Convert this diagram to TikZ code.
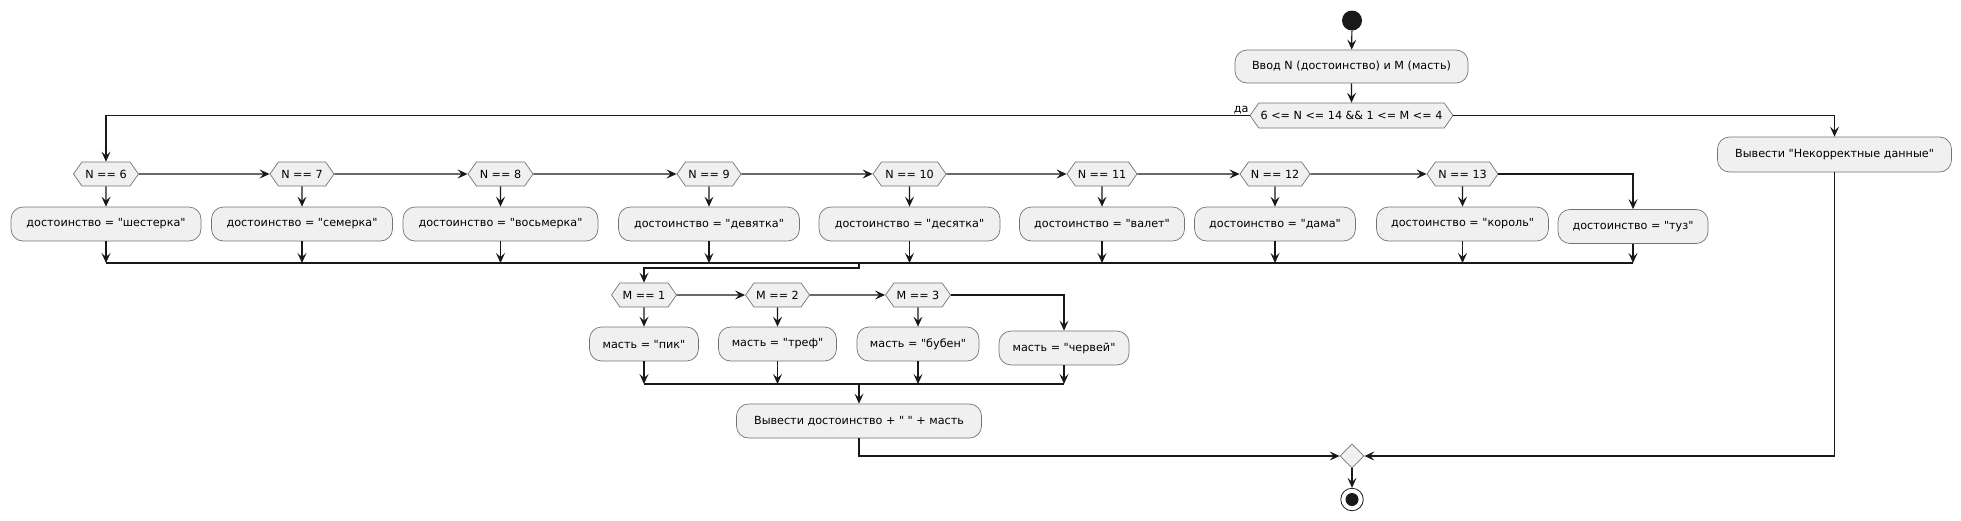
\documentclass[tikz,border=0pt]{standalone}
\usepackage{fontspec}
\newfontfamily\umlfont{DejaVu Sans}
\usetikzlibrary{shapes.symbols,shapes.geometric,arrows.meta}
\colorlet{myfill}{black!6}
\colorlet{mygray}{black!55}
\colorlet{mydark}{black!90}

\begin{document}
\begin{tikzpicture}[x=1pt,y=-1pt,font=\umlfont\fontsize{11.2}{13}\selectfont]
\useasboundingbox (0,0) rectangle (1961,520);
\tikzset{>={Stealth[length=10pt,width=9pt,inset=4pt]}}
\tikzset{Action/.style ={draw=mygray, fill=myfill, rounded corners=12pt, minimum height=34pt, inner sep=0pt, line width=0.7pt}}
\tikzset{Choice/.style ={shape=signal, signal to=east and west, signal pointer angle=110, draw=mygray, fill=myfill, minimum height=24pt, inner sep=0pt, line width=0.7pt}}
\tikzset{Flow/.style ={->, draw=mydark, line width=1.2pt}}
\node[circle, fill=mydark, minimum size=20pt, inner sep=0pt] (s) at (1352,20.5) {};
\node[Action, minimum width=233pt, minimum height=33pt] (inp) at (1351.5,66.5) {Ввод N (достоинство) и M (масть)};
\node[Choice, minimum width=203pt, minimum height=25pt] (c) at (1351.5,115.5) {6 <= N <= 14 \&\& 1 <= M <= 4};
\node[anchor=south east, inner sep=1pt] (yes) at (c.west) {да};
\node[Choice, minimum width=65pt] (n6) at (106,174) {N == 6};
\node[Choice, minimum width=64pt] (n7) at (302,174) {N == 7};
\node[Choice, minimum width=65pt] (n8) at (500.5,174) {N == 8};
\node[Choice, minimum width=64pt] (n9) at (709,174) {N == 9};
\node[Choice, minimum width=73pt] (n10) at (909.5,174) {N == 10};
\node[Choice, minimum width=70pt] (n11) at (1102,174) {N == 11};
\node[Choice, minimum width=70pt] (n12) at (1275,174) {N == 12};
\node[Choice, minimum width=71pt] (n13) at (1462.5,174) {N == 13};
\node[Action, minimum width=190pt] (d6) at (106,224) {достоинство = "шестерка"};
\node[Action, minimum width=181pt] (d7) at (302,224) {достоинство = "семерка"};
\node[Action, minimum width=195pt] (d8) at (500.5,224) {достоинство = "восьмерка"};
\node[Action, minimum width=181pt] (d9) at (709,224) {достоинство = "девятка"};
\node[Action, minimum width=181pt] (d10) at (909.5,224) {достоинство = "десятка"};
\node[Action, minimum width=165pt] (d11) at (1102,224) {достоинство = "валет"};
\node[Action, minimum width=161pt] (d12) at (1275,224) {достоинство = "дама"};
\node[Action, minimum width=172pt] (d13) at (1462.5,224) {достоинство = "король"};
\node[Action, minimum width=150pt] (d14) at (1633,226.5) {достоинство = "туз"};
\node[Action, minimum width=234pt, minimum height=35pt] (bad) at (1834.5,154.5) {Вывести "Некорректные данные"};
\node[Choice, minimum width=65pt] (m1) at (644,295) {M == 1};
\node[Choice, minimum width=64pt] (m2) at (777.5,295) {M == 2};
\node[Choice, minimum width=65pt] (m3) at (918,295) {M == 3};
\node[Action, minimum width=109pt] (s1) at (644,344) {масть = "пик"};
\node[Action, minimum width=118pt] (s2) at (777.5,344) {масть = "треф"};
\node[Action, minimum width=122pt] (s3) at (918,344) {масть = "бубен"};
\node[Action, minimum width=130pt] (s4) at (1064,348) {масть = "червей"};
\node[Action, minimum width=245pt] (out) at (859,421) {Вывести достоинство + " " + масть};
\node[diamond, aspect=1, draw=mygray, fill=myfill, minimum size=24pt, inner sep=0pt, line width=0.7pt] (jn) at (1352,456) {};
\node[circle, draw=mydark, fill=white, minimum size=22.5pt, inner sep=0pt, line width=0.8pt] (e) at (1352,499.5) {};
\node[circle, fill=mydark, minimum size=13pt, inner sep=0pt] (e0) at (e) {};
\coordinate (k) at (0,263);
\coordinate (j) at (859,263);
\coordinate (l) at (0,384);
\draw[Flow] (s) -- (inp);
\draw[Flow] (inp) -- (c);
\draw[Flow] (c.west) -| (n6);
\draw[Flow] (c.east) -| (bad);
\draw[Flow] (n6) -- (n7);
\draw[Flow] (n7) -- (n8);
\draw[Flow] (n8) -- (n9);
\draw[Flow] (n9) -- (n10);
\draw[Flow] (n10) -- (n11);
\draw[Flow] (n11) -- (n12);
\draw[Flow] (n12) -- (n13);
\draw[Flow] (n13.east) -| (d14);
\draw[Flow] (n6) -- (d6);
\draw[Flow] (n7) -- (d7);
\draw[Flow] (n8) -- (d8);
\draw[Flow] (n9) -- (d9);
\draw[Flow] (n10) -- (d10);
\draw[Flow] (n11) -- (d11);
\draw[Flow] (n12) -- (d12);
\draw[Flow] (n13) -- (d13);
\draw[Flow] (d6) -- (d6 |- k);
\draw[Flow] (d7) -- (d7 |- k);
\draw[Flow] (d8) -- (d8 |- k);
\draw[Flow] (d9) -- (d9 |- k);
\draw[Flow] (d10) -- (d10 |- k);
\draw[Flow] (d11) -- (d11 |- k);
\draw[Flow] (d12) -- (d12 |- k);
\draw[Flow] (d13) -- (d13 |- k);
\draw[Flow] (d14) -- (d14 |- k);
\draw[Flow, -] (d6 |- k) -- (d14 |- k);
\draw[Flow] (j) -- ++(0,5) -| (m1);
\draw[Flow] (m1) -- (m2);
\draw[Flow] (m2) -- (m3);
\draw[Flow] (m3.east) -| (s4);
\draw[Flow] (m1) -- (s1);
\draw[Flow] (m2) -- (s2);
\draw[Flow] (m3) -- (s3);
\draw[Flow] (s1) -- (s1 |- l);
\draw[Flow] (s2) -- (s2 |- l);
\draw[Flow] (s3) -- (s3 |- l);
\draw[Flow] (s4) -- (s4 |- l);
\draw[Flow, -] (s1 |- l) -- (s4 |- l);
\draw[Flow] (out |- l) -- (out);
\draw[Flow] (out) |- (jn);
\draw[Flow] (bad) |- (jn);
\draw[Flow] (jn) -- (e);
\end{tikzpicture}
\end{document}
